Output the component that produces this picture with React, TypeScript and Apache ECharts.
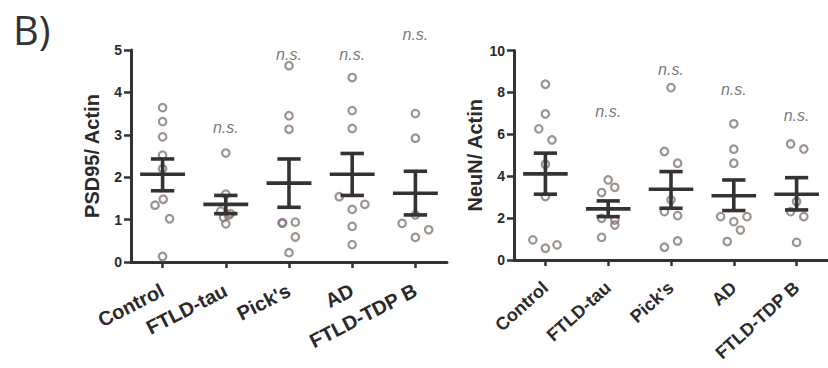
import React, { useEffect, useRef } from "react";
import * as echarts from "echarts";

const categories = ["Control", "FTLD-tau", "Pick's", "AD", "FTLD-TDP B"];

// PSD95 / Actin
const psd95Values = [
  [3.64, 3.31, 2.95, 2.52, 2.2, 1.48, 1.34, 1.02, 0.13],
  [2.57, 1.6, 1.2, 1.14, 1.1, 1.05, 0.9],
  [4.63, 3.45, 3.13, 0.92, 0.92, 0.94, 0.59, 0.22],
  [4.35, 3.57, 3.15, 1.54, 1.36, 1.24, 0.84, 0.41],
  [3.5, 2.92, 1.11, 0.91, 0.58, 0.76],
];
const psd95Jitter = [
  [0, 0, 0, 0, 0, 0.01, -0.12, 0.11, 0],
  [0, 0, -0.08, 0.074, 0.04, -0.035, 0],
  [0, 0, 0, -0.11, -0.1, 0.1, 0.1, 0],
  [0, 0, 0, -0.205, 0.2, 0, 0, 0],
  [0, 0, 0, -0.21, 0, 0.21],
];
const psd95Mean = [2.07, 1.36, 1.86, 2.07, 1.62];
const psd95SemLow = [1.68, 1.14, 1.29, 1.57, 1.11];
const psd95SemHigh = [2.43, 1.57, 2.43, 2.56, 2.14];
const psd95NsY = [null, 3.17, 4.9, 4.9, 5.37];

// NeuN / Actin
const neunValues = [
  [8.39, 6.97, 6.26, 5.73, 4.57, 3.03, 0.96, 0.56, 0.72],
  [3.82, 3.47, 3.22, 1.99, 1.91, 1.67, 1.08],
  [8.23, 5.18, 4.62, 2.87, 2.31, 2.12, 0.91, 0.61],
  [6.5, 5.29, 4.62, 2.07, 2.07, 1.83, 1.43, 0.88],
  [5.54, 5.3, 2.79, 2.31, 2.07, 0.84],
];
const neunJitter = [
  [0, 0, -0.105, 0.105, 0, 0, -0.2, 0, 0.185],
  [0, 0.105, -0.105, -0.105, 0.105, 0.105, -0.105],
  [0, -0.105, 0.105, 0, -0.105, 0.105, 0.105, -0.105],
  [0, 0, 0, -0.21, 0.21, 0, 0.105, -0.105],
  [-0.095, 0.115, 0, -0.095, 0.115, 0],
];
const neunMean = [4.11, 2.44, 3.38, 3.07, 3.14];
const neunSemLow = [3.14, 2.07, 2.47, 2.36, 2.39];
const neunSemHigh = [5.1, 2.82, 4.22, 3.82, 3.93];
const neunNsY = [null, 7.09, 9.08, 8.15, 6.88];

const psd95Ticks = { min: 0, max: 5, interval: 1 };
const neunTicks = { min: 0, max: 10, interval: 2 };

const FONT = "Arial, 'Liberation Sans', sans-serif";
const AXIS_COLOR = "#333333";
const POINT_COLOR = "#877872";

function pointData(values: number[][], jitter: number[][]) {
  const out: number[][] = [];
  values.forEach((grp, i) =>
    grp.forEach((v, j) => out.push([i + (jitter[i][j] || 0), v]))
  );
  return out;
}

function errData(mean: number[], lo: number[], hi: number[]) {
  return mean.map((m, i) => [i, m, lo[i], hi[i]]);
}

function nsData(ns: (number | null)[]) {
  const out: number[][] = [];
  ns.forEach((v, i) => {
    if (v !== null) out.push([i, v]);
  });
  return out;
}

const renderErr = (params: any, api: any) => {
  const x = api.value(0);
  const pm = api.coord([x, api.value(1)]);
  const pl = api.coord([x, api.value(2)]);
  const ph = api.coord([x, api.value(3)]);
  const bw = api.size([1, 0])[0];
  const mh = bw * 0.355;
  const ch = bw * 0.185;
  const style = { stroke: "#333333", lineWidth: 3.6 };
  return {
    type: "group",
    children: [
      { type: "line", shape: { x1: pl[0], y1: pl[1], x2: ph[0], y2: ph[1] }, style },
      { type: "line", shape: { x1: pm[0] - mh, y1: pm[1], x2: pm[0] + mh, y2: pm[1] }, style },
      { type: "line", shape: { x1: pl[0] - ch, y1: pl[1], x2: pl[0] + ch, y2: pl[1] }, style },
      { type: "line", shape: { x1: ph[0] - ch, y1: ph[1], x2: ph[0] + ch, y2: ph[1] }, style },
    ],
  };
};

function catAxis(gridIndex: number, rotate: number, fontSize: number, margin: number) {
  return {
    type: "category",
    gridIndex,
    data: categories,
    boundaryGap: true,
    axisLine: { show: true, lineStyle: { color: AXIS_COLOR, width: 3 } },
    axisTick: { show: true, alignWithLabel: true, length: 6, lineStyle: { color: AXIS_COLOR, width: 2.5 } },
    axisLabel: {
      rotate,
      interval: 0,
      margin,
      color: "#2a2a2a",
      fontFamily: FONT,
      fontWeight: "bold",
      fontSize,
    },
    splitLine: { show: false },
  };
}

function hiddenX(gridIndex: number) {
  return {
    type: "value",
    gridIndex,
    min: -0.5,
    max: 4.5,
    show: false,
    splitLine: { show: false },
  };
}

function valAxis(gridIndex: number, name: string, t: { min: number; max: number; interval: number }) {
  return {
    type: "value",
    gridIndex,
    min: t.min,
    max: t.max,
    interval: t.interval,
    name,
    nameLocation: "middle",
    nameGap: 29,
    nameRotate: 90,
    nameTextStyle: { color: "#2a2a2a", fontFamily: FONT, fontWeight: "bold", fontSize: 20 },
    axisLine: { show: true, onZero: false, lineStyle: { color: AXIS_COLOR, width: 3 } },
    axisTick: { show: true, length: 7, lineStyle: { color: AXIS_COLOR, width: 2.5 } },
    axisLabel: { margin: 9, color: "#2a2a2a", fontFamily: FONT, fontWeight: "bold", fontSize: 14 },
    splitLine: { show: false },
  };
}

function scatterSeries(xAxisIndex: number, yAxisIndex: number, data: number[][]) {
  return {
    type: "scatter",
    xAxisIndex,
    yAxisIndex,
    data,
    symbol: "circle",
    symbolSize: 7.5,
    itemStyle: { color: "rgba(255,255,255,0)", borderColor: POINT_COLOR, borderWidth: 2.2 },
    z: 2,
  };
}

function errSeries(xAxisIndex: number, yAxisIndex: number, data: number[][]) {
  return {
    type: "custom",
    xAxisIndex,
    yAxisIndex,
    data,
    renderItem: renderErr,
    encode: { x: 0, y: [1, 2, 3] },
    z: 3,
  };
}

function nsSeries(xAxisIndex: number, yAxisIndex: number, data: number[][]) {
  return {
    type: "scatter",
    xAxisIndex,
    yAxisIndex,
    data,
    symbolSize: 1,
    clip: false,
    itemStyle: { color: "rgba(0,0,0,0)" },
    label: {
      show: true,
      position: "inside",
      formatter: "n.s.",
      color: "#555555",
      fontFamily: FONT,
      fontStyle: "italic",
      fontSize: 16,
    },
    z: 4,
  };
}

export default function App() {
  const ref = useRef<HTMLDivElement>(null);
  useEffect(() => {
    if (!ref.current) return;
    const chart = echarts.init(ref.current, undefined, { renderer: "svg" });
    chart.setOption({
      animation: false,
      backgroundColor: "#ffffff",
      grid: [
        { left: 131, top: 50, width: 316, height: 212, containLabel: false },
        { left: 514, top: 50.5, width: 316, height: 209.5, containLabel: false },
      ],
      xAxis: [catAxis(0, 27, 20, 27), catAxis(1, 42, 18, 25), hiddenX(0), hiddenX(1)],
      yAxis: [valAxis(0, "PSD95/ Actin", psd95Ticks), valAxis(1, "NeuN/ Actin", neunTicks)],
      graphic: [
        {
          type: "text",
          left: 13,
          top: 9,
          style: { text: "B)", fontFamily: "'Open Sans', sans-serif", fontSize: 40, fill: "#333333" },
        },
      ],
      series: [
        scatterSeries(2, 0, pointData(psd95Values, psd95Jitter)),
        errSeries(0, 0, errData(psd95Mean, psd95SemLow, psd95SemHigh)),
        nsSeries(0, 0, nsData(psd95NsY)),
        scatterSeries(3, 1, pointData(neunValues, neunJitter)),
        errSeries(1, 1, errData(neunMean, neunSemLow, neunSemHigh)),
        nsSeries(1, 1, nsData(neunNsY)),
      ],
    });
    return () => chart.dispose();
  }, []);
  return (
    <div
      ref={ref}
      style={{ position: "fixed", left: 0, top: 0, width: 828, height: 368, background: "#fff" }}
    />
  );
}
